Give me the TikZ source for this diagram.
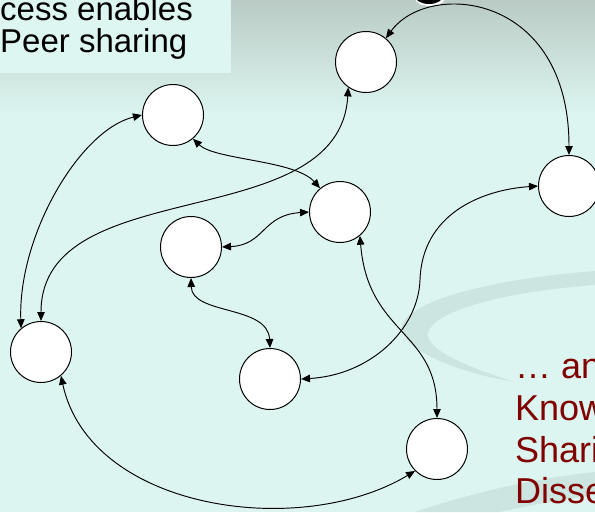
\documentclass[tikz,border=0pt]{standalone}
\usepackage{fontspec}
\setmainfont{Liberation Sans}
\usetikzlibrary{arrows.meta}
\definecolor{slidetop}{RGB}{186,203,197}
\definecolor{mint}{RGB}{220,245,240}
\definecolor{boxmint}{RGB}{222,246,241}
\definecolor{swoosh}{RGB}{205,229,224}
\definecolor{slidered}{RGB}{128,0,0}
\begin{document}
\begin{tikzpicture}[x=1pt, y=-1pt,
    peer/.style={circle, draw, line width=1pt, fill=white, minimum size=61pt, inner sep=0pt},
    link/.style={<->, line width=0.95pt},
    >={Triangle[length=9pt, width=7.5pt]},
    intro/.style={anchor=base west, inner sep=0pt, font=\fontsize{33}{36}\selectfont},
    remark/.style={anchor=base west, inner sep=0pt, text=slidered, font=\fontsize{36}{40}\selectfont}]
  \useasboundingbox (0,0) rectangle (595,512);
  \clip (0,0) rectangle (595,512);
  % slide background
  \fill[mint] (0,0) rectangle (595,512);
  \shade[top color=slidetop, bottom color=mint] (0,0) rectangle (595,115);
  \fill[swoosh] (595,271) .. controls (480,280) and (395,305) .. (402,332) .. controls (410,355) and (470,375) .. (515,382)
    .. controls (470,368) and (425,350) .. (428,333) .. controls (432,312) and (500,292) .. (595,285) -- cycle;
  \fill[swoosh] (415,512) .. controls (480,490) and (540,478) .. (595,472) -- (595,495) .. controls (560,500) and (530,505) .. (500,512) -- cycle;
  \fill[white] (430,-2) ellipse (15 and 8);
  \fill[black] (429,-4) ellipse (14 and 8);
  \fill[boxmint] (0,0) rectangle (231,73);
  \node[intro] (intro1) at (0,20) {cess enables};
  \node[intro] (intro2) at (0,52) {Peer sharing};

  \node[peer] (T) at (366,62) {};
  \node[peer] (U) at (173,115) {};
  \node[peer] (C) at (340,212) {};
  \node[peer] (R) at (569,186) {};
  \node[peer] (M) at (191,247) {};
  \node[peer] (L) at (41,352) {};
  \node[peer] (B) at (270,379) {};
  \node[peer] (D) at (437,449) {};

  \draw[link] (T.50) .. controls (428,-20) and (569,-8) .. (R.north);
  \draw[link] (U.west) .. controls (80,130) and (18,235) .. (L.130);
  \draw[link] (L.north) .. controls (41,171) and (340,237) .. (T.235);
  \draw[link] (U.-50) .. controls (215,160) and (295,160) .. (C.130);
  \draw[link] (M.east) .. controls (265,245) and (262,215) .. (C.west);
  \draw[link] (M.south) .. controls (192,315) and (268,305) .. (B.north);
  \draw[link] (B.east) .. controls (370,375) and (418,330) .. (420,280) .. controls (422,215) and (480,190) .. (R.west);
  \draw[link] (C.-50) .. controls (368,335) and (437,330) .. (D.north);
  \draw[link] (L.-50) .. controls (90,510) and (300,540) .. (D.-135);

  \node[remark] (more1) at (515,378) {… an};
  \node[remark] (more2) at (515,420) {Know};
  \node[remark] (more3) at (515,462) {Shari};
  \node[remark] (more4) at (515,503) {Disse};
\end{tikzpicture}
\end{document}
